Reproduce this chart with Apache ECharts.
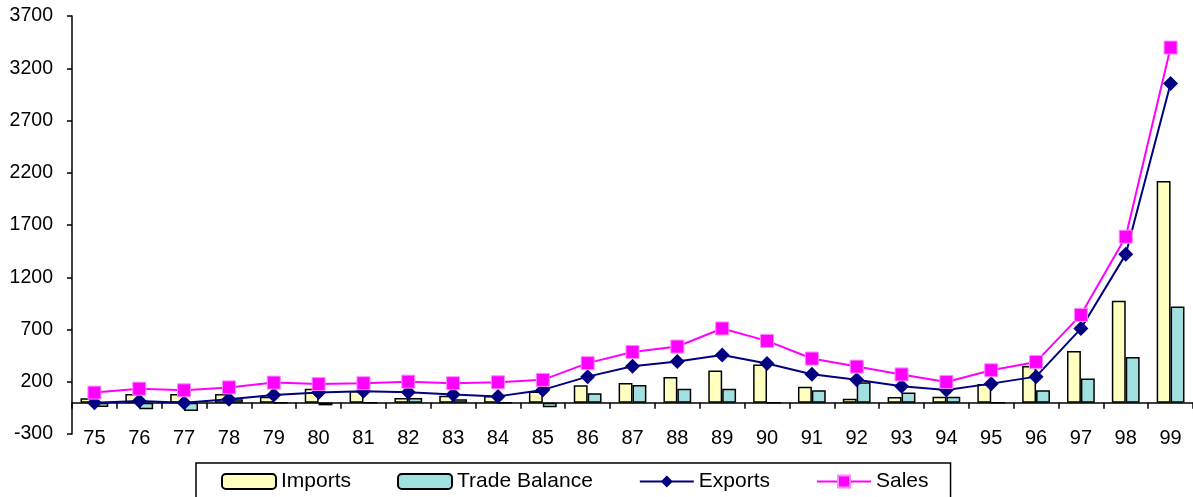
<!DOCTYPE html>
<html><head><meta charset="utf-8">
<script src="https://cdn.jsdelivr.net/npm/echarts@6/dist/echarts.min.js"></script>
<style>html,body{margin:0;padding:0;background:#fff}#c{width:1193px;height:497px}</style>
</head><body><div id="c"></div>
<script>
const years = ['75','76','77','78','79','80','81','82','83','84','85','86','87','88','89','90','91','92','93','94','95','96','97','98','99'];
const imports = [41, 83, 83, 83, 57, 134, 112, 45, 67, 64, 106, 167, 189, 246, 307, 364, 153, 38, 54, 57, 178, 351, 495, 975, 2122];
const tradeBalance = [-42, -64, -80, 32, 0, -26, 0, 45, 32, 0, -44, 90, 169, 134, 134, 0, 118, 195, 96, 57, 0, 118, 230, 437, 921];
const exportsData = [0, 15, 0, 32, 73, 96, 110, 100, 77, 60, 122, 249, 348, 393, 457, 374, 271, 220, 157, 121, 182, 249, 709, 1419, 3053];
const sales = [96, 134, 118, 146, 192, 178, 186, 201, 186, 195, 218, 378, 485, 537, 710, 591, 422, 345, 270, 198, 310, 390, 840, 1588, 3398];
const yMin = -300, yMax = 3700, yStep = 500;

const font = 'Liberation Sans, Arial, sans-serif';
const chart = echarts.init(document.getElementById('c'), null, {renderer: 'canvas'});
chart.setOption({
  animation: false,
  backgroundColor: '#ffffff',
  grid: {left: 72, right: -2, top: 16, bottom: 63, containLabel: false},
  legend: {
    left: 196, top: 463,
    padding: [8, 22, 20, 25],
    borderColor: '#000', borderWidth: 1.5,
    itemGap: 46, itemWidth: 54, itemHeight: 15,
    textStyle: {fontFamily: font, fontSize: 21, color: '#000'},
    data: ['Imports', 'Trade Balance', 'Exports', 'Sales']
  },
  xAxis: [
    {
      type: 'category', data: years, position: 'bottom',
      axisLine: {show: false, onZero: false}, axisTick: {show: false},
      axisLabel: {fontFamily: font, fontSize: 20, color: '#000', margin: 4, verticalAlign: 'middle', interval: 0},
      splitLine: {show: false}
    },
    {
      type: 'category', data: years, position: 'bottom',
      axisLine: {show: true, onZero: true, lineStyle: {color: '#000', width: 1.5}},
      axisTick: {show: true, length: 6, lineStyle: {color: '#000', width: 1.5}},
      axisLabel: {show: false}, splitLine: {show: false}
    }
  ],
  yAxis: {
    type: 'value', min: yMin, max: yMax, interval: yStep,
    axisLine: {show: true, onZero: false, lineStyle: {color: '#000', width: 1.5}},
    axisTick: {show: true, length: 5, lineStyle: {color: '#000', width: 1.5}},
    axisLabel: {fontFamily: font, fontSize: 19.5, color: '#000', margin: 19, formatter: v => String(v)},
    splitLine: {show: false}
  },
  series: [
    {
      name: 'Imports', type: 'bar', data: imports, xAxisIndex: 0,
      barGap: '0%', barCategoryGap: '38%',
      itemStyle: {color: '#FFFFC0', borderColor: '#000', borderWidth: 1.5}
    },
    {
      name: 'Trade Balance', type: 'bar', data: tradeBalance, xAxisIndex: 0,
      barGap: '0%', barCategoryGap: '38%',
      itemStyle: {color: '#A0E0E0', borderColor: '#000', borderWidth: 1.5}
    },
    {
      name: 'Exports', type: 'line', data: exportsData, xAxisIndex: 0,
      symbol: 'diamond', symbolSize: 15,
      lineStyle: {color: '#000080', width: 2},
      itemStyle: {color: '#000080'}, z: 5
    },
    {
      name: 'Sales', type: 'line', data: sales, xAxisIndex: 0,
      symbol: 'rect', symbolSize: 13,
      lineStyle: {color: '#FF00FF', width: 2},
      itemStyle: {color: '#FF00FF', borderColor: '#FF88FF', borderWidth: 1}, z: 6
    }
  ]
});
</script></body></html>
